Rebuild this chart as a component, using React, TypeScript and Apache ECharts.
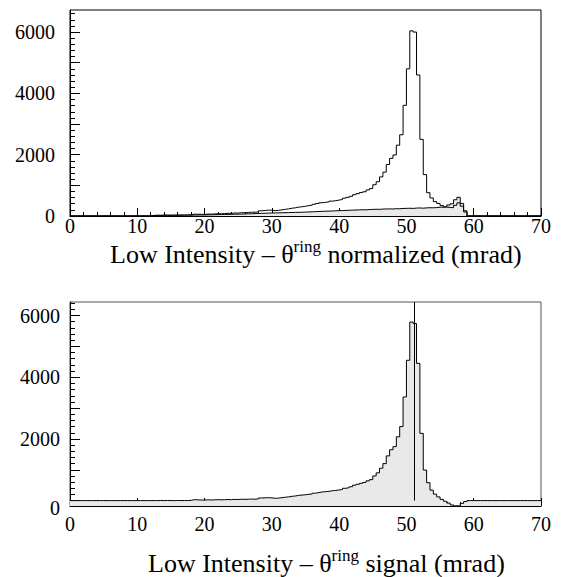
import React, { useEffect, useRef } from "react";
import * as echarts from "echarts";

// ---- data (bin width 0.5 mrad, bins from 0 to 70 mrad) ----
const BIN_WIDTH = 0.5;
const X_MIN = 0;
const X_MAX = 70;

// top panel: all hits (open histogram)
const totalCounts = [
  0, 0, 0, 0, 0, 0, 0, 0, 0, 0, 0, 0, 0, 0, 0, 0, 0, 0, 0, 0, 0, 0, 0, 0,
  20, 25, 22, 28, 30, 25, 30, 28, 32, 30, 35, 38,
  60, 58, 55, 50,
  62, 60, 68, 75, 73, 80, 88, 85, 98, 95, 108, 106, 115, 124, 123, 137,
  170, 180, 190, 188,
  175, 185,
  200, 218, 232, 254, 268, 290,
  302, 318, 337, 353, 382, 408,
  432, 446, 460, 485, 500, 520,
  538, 582, 608, 642,
  695, 730, 765, 790,
  850, 895,
  1020, 1118,
  1275, 1430,
  1680, 1880,
  1990, 2310, 2650, 3610,
  4800, 6040, 6000, 4600, 2500, 1350, 760, 590, 470, 410,
  340, 290, 280, 270, 350, 430, 320, 130,
  0, 0, 0, 0, 0, 0, 0, 0, 0, 0, 0, 0, 0, 0, 0, 0, 0, 0, 0, 0, 0, 0,
];

// top panel: normalized background (filled histogram)
const backgroundCounts = [
  0, 0, 0, 0, 0, 0, 0, 0, 0, 0, 0, 0, 0, 0, 0, 0, 0, 0, 0, 0, 0, 0, 0, 0,
  15, 20, 18, 22, 25, 20, 25, 22, 28, 25, 30, 28,
  30, 32, 35, 33,
  38, 40, 42, 45, 48, 50, 52, 55, 58, 60, 62, 66, 70, 74, 78, 82,
  86, 90, 95, 98,
  100, 104,
  106, 108, 112, 114, 118, 120,
  122, 128, 132, 138, 142, 148,
  152, 156, 160, 165, 170, 175,
  178, 182, 188, 192,
  195, 200, 205, 200,
  210, 215,
  220, 218,
  225, 230,
  232, 228,
  240, 236, 245, 250,
  252, 248, 258, 262, 255, 265, 270, 268, 275, 285,
  290, 305, 360, 400, 530, 610, 410, 170,
  0, 0, 0, 0, 0, 0, 0, 0, 0, 0, 0, 0, 0, 0, 0, 0, 0, 0, 0, 0, 0, 0,
];

// bottom panel: signal (filled histogram)
const signalCounts = [
  0, 0, 0, 0, 0, 0, 0, 0, 0, 0, 0, 0, 0, 0, 0, 0, 0, 0, 0, 0, 0, 0, 0, 0,
  0, 0, 5, 0, 5, 0, 0, 5, 0, 5, 0, 10,
  30, 25, 20, 15,
  25, 20, 25, 30, 25, 30, 35, 30, 40, 35, 45, 40, 45, 50, 45, 55,
  85, 90, 95, 90,
  75, 80,
  95, 110, 120, 140, 150, 170,
  180, 190, 205, 215, 240, 260,
  280, 290, 300, 320, 330, 345,
  360, 400, 420, 450,
  500, 530, 560, 590,
  640, 680,
  800, 900,
  1050, 1200,
  1450, 1650,
  1750, 2070, 2400, 3360,
  4550, 5790, 5740, 4450, 2180, 990, 580, 340, 210, 120,
  40, -20, -80, -140, -175, -175, -90, -30,
  0, 0, 0, 0, 0, 0, 0, 0, 0, 0, 0, 0, 0, 0, 0, 0, 0, 0, 0, 0, 0, 0,
];

const peakMarker = 51.2;

const TOP_Y_MIN = 0;
const TOP_Y_MAX = 6720;
const BOTTOM_Y_MIN = -175;
const BOTTOM_Y_MAX = 6440;

const yLabelValues = [0, 2000, 4000, 6000];
const yMajorTicks = [0, 1000, 2000, 3000, 4000, 5000, 6000];
const yMinorStep = 200;

const topTitle = "{a|Low Intensity – θ}{b|ring}{a| normalized (mrad)}";
const bottomTitle = "{a|Low Intensity – θ}{b|ring}{a| signal (mrad)}";

const FONT = "'Liberation Serif', 'Times New Roman', serif";
const FILL = "#e9e9e9";

function steps(counts: number[]): number[][] {
  const pts = counts.map((v, i) => [X_MIN + i * BIN_WIDTH, v]);
  pts.push([X_MIN + counts.length * BIN_WIDTH, counts[counts.length - 1]]);
  return pts;
}

function minorTicks(max: number): number[] {
  const out: number[] = [];
  for (let v = 0; v <= max; v += yMinorStep) out.push(v);
  return out;
}

function xAxisCfg(gridIndex: number, margin: number) {
  return {
    type: "value",
    gridIndex,
    min: X_MIN,
    max: X_MAX,
    interval: 10,
    axisLine: { show: true, onZero: false, lineStyle: { color: "#000", width: 1 } },
    axisTick: { show: true, inside: true, length: 8, lineStyle: { color: "#000", width: 1 } },
    minorTick: { show: true, splitNumber: 5, length: 4, lineStyle: { color: "#000", width: 1 } },
    splitLine: { show: false },
    minorSplitLine: { show: false },
    axisLabel: {
      margin,
      fontSize: 20,
      fontFamily: FONT,
      color: "#000",
      formatter: (v: number) => String(v),
    },
  };
}

function yAxisPair(gridIndex: number, min: number, max: number, margin: number, zeroShift: number) {
  return [
    {
      type: "value",
      gridIndex,
      min,
      max,
      position: "left",
      axisLine: { show: true, onZero: false, lineStyle: { color: "#000", width: 1 } },
      axisTick: {
        show: true,
        inside: true,
        length: 10,
        customValues: yMajorTicks,
        lineStyle: { color: "#000", width: 1 },
      },
      axisLabel: {
        customValues: yLabelValues,
        margin,
        fontSize: 20,
        fontFamily: FONT,
        color: "#000",
        formatter: (v: number) => (v === 0 && zeroShift ? "{z|0}" : String(v)),
        rich: {
          z: { fontSize: 20, fontFamily: FONT, color: "#000", padding: [zeroShift * 2, 0, 0, 0] },
        },
      },
      splitLine: { show: false },
    },
    {
      type: "value",
      gridIndex,
      min,
      max,
      position: "left",
      axisLine: { show: false },
      axisTick: {
        show: true,
        inside: true,
        length: 5,
        customValues: minorTicks(max),
        lineStyle: { color: "#000", width: 1 },
      },
      axisLabel: { show: false },
      splitLine: { show: false },
    },
  ];
}

const titleRich = {
  a: { fontSize: 26, fontFamily: FONT, fill: "#000", verticalAlign: "bottom" },
  b: { fontSize: 17, fontFamily: FONT, fill: "#000", verticalAlign: "bottom", padding: [0, 0, 12, 0] },
};

export default function App() {
  const ref = useRef<HTMLDivElement>(null);
  useEffect(() => {
    if (!ref.current) return;
    const chart = echarts.init(ref.current, undefined, { renderer: "svg" });
    const option = {
      animation: false,
      backgroundColor: "#fff",
      grid: [
        { left: 70, top: 10, width: 471, height: 206, show: true, borderColor: "#000", borderWidth: 1, backgroundColor: "transparent" },
        { left: 70, top: 302, width: 471, height: 204, show: true, borderColor: "#555", borderWidth: 1, backgroundColor: "transparent" },
      ],
      xAxis: [xAxisCfg(0, 0), xAxisCfg(1, 8)],
      yAxis: [
        ...yAxisPair(0, TOP_Y_MIN, TOP_Y_MAX, 15, 0),
        ...yAxisPair(1, BOTTOM_Y_MIN, BOTTOM_Y_MAX, 10, 7),
      ],
      series: [
        {
          type: "line",
          xAxisIndex: 0,
          yAxisIndex: 0,
          data: steps(backgroundCounts),
          step: "end",
          symbol: "none",
          lineStyle: { color: "#000", width: 1 },
          areaStyle: { color: FILL, origin: "start", opacity: 1 },
          z: 2,
        },
        {
          type: "line",
          xAxisIndex: 0,
          yAxisIndex: 0,
          data: steps(totalCounts),
          step: "end",
          symbol: "none",
          lineStyle: { color: "#000", width: 1 },
          z: 3,
        },
        {
          type: "line",
          xAxisIndex: 1,
          yAxisIndex: 2,
          data: steps(signalCounts),
          step: "end",
          symbol: "none",
          lineStyle: { color: "#000", width: 1 },
          areaStyle: { color: FILL, origin: "start", opacity: 1 },
          z: 2,
        },
        {
          type: "line",
          xAxisIndex: 1,
          yAxisIndex: 2,
          data: [
            [peakMarker, 0],
            [peakMarker, BOTTOM_Y_MAX],
          ],
          symbol: "none",
          lineStyle: { color: "#000", width: 1 },
          z: 4,
        },
      ],
      graphic: [
        {
          type: "text",
          x: 110,
          y: 267,
          style: { text: topTitle, rich: titleRich, verticalAlign: "bottom", align: "left" },
        },
        {
          type: "text",
          x: 148,
          y: 576,
          style: { text: bottomTitle, rich: titleRich, verticalAlign: "bottom", align: "left" },
        },
      ],
    };
    chart.setOption(option as any);
    return () => chart.dispose();
  }, []);
  return (
    <div
      ref={ref}
      style={{ position: "absolute", left: 0, top: 0, width: 561, height: 577 }}
    />
  );
}
